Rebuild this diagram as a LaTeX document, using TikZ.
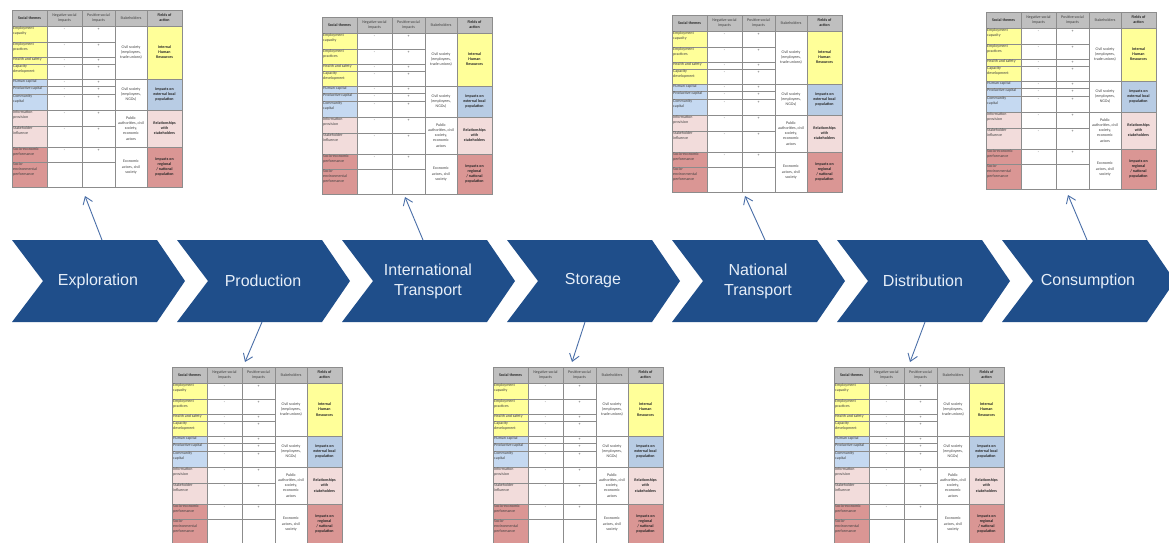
\documentclass[tikz,border=0pt]{standalone}
\usepackage{fontspec}
\setmainfont{Liberation Sans}
\newfontfamily\tabfont{Carlito}
\usetikzlibrary{arrows.meta}
\definecolor{chevblue}{HTML}{1F4E8A}
\definecolor{labeltext}{HTML}{E6EEF8}
\definecolor{tyellow}{HTML}{FFFF99}
\definecolor{tblue}{HTML}{C5D9F1}
\definecolor{tbluef}{HTML}{B8CCE4}
\definecolor{tpink}{HTML}{F2DCDB}
\definecolor{trose}{HTML}{DA9694}
\definecolor{thead}{HTML}{BFBFBF}
\definecolor{tline}{HTML}{8C8C8C}
\definecolor{arrowblue}{HTML}{4A6FA8}
\tikzset{
  chev/.style={fill=chevblue},
  chevlabel/.style={text=labeltext, font=\fontsize{16}{20}\selectfont, align=center, inner sep=0pt},
  link/.style={draw=arrowblue, line width=0.9pt, -{Straight Barb[length=7pt,width=10pt,line width=0.9pt]}},
  cell/.style={inner sep=0.5pt, font=\tabfont\fontsize{4}{5.1}\selectfont, text=black!75, align=center},
  cellb/.style={cell, font=\tabfont\bfseries\fontsize{4}{5.1}\selectfont, text=black!85},
  theme/.style={cell, anchor=north west, align=left},
  grid/.style={draw=tline, line width=0.5pt},
  socialtable/.pic={
    \fill[thead] (0,0) rectangle (170,16);
    \fill[tyellow] (0,16) rectangle (35,69);
    \fill[tblue] (0,69) rectangle (35,100);
    \fill[tpink] (0,100) rectangle (35,137);
    \fill[trose] (0,137) rectangle (35,177);
    \fill[tyellow] (135,16) rectangle (170,69);
    \fill[tbluef] (135,69) rectangle (170,100);
    \fill[tpink] (135,100) rectangle (170,137);
    \fill[trose] (135,137) rectangle (170,177);
    \foreach \x in {35,70,103,135} \draw[grid] (\x,0) -- (\x,177);
    \draw[grid] (0,16) -- (170,16);
    \foreach \y in {32,47,54,69,76,84,100,116,137,152} \draw[grid] (0,\y) -- (103,\y);
    \foreach \y in {69,100,137} \draw[grid] (103,\y) -- (170,\y);
    \draw[grid, line width=0.7pt] (0,0) rectangle (170,177);
    \node[cellb] (-h1) at (17.5,8) {Social themes};
    \node[cell] (-h2) at (52.5,8) {Negative social\\impacts};
    \node[cell] (-h3) at (86.5,8) {Positive social\\impacts};
    \node[cell] (-h4) at (119,8) {Stakeholders};
    \node[cellb] (-h5) at (152.5,8) {Fields of\\action};
    \node[theme] (-s1) at (0.5,16.3) {Employment\\capacity};
    \node[theme] (-s2) at (0.5,32.3) {Employment\\practices};
    \node[theme] (-s3) at (0.5,47.3) {Health and safety};
    \node[theme] (-s4) at (0.5,54.3) {Capacity\\development};
    \node[theme] (-s5) at (0.5,69.3) {Human capital};
    \node[theme] (-s6) at (0.5,76.3) {Productive capital};
    \node[theme] (-s7) at (0.5,84.3) {Community\\capital};
    \node[theme] (-s8) at (0.5,100.3) {Information\\provision};
    \node[theme] (-s9) at (0.5,116.3) {Stakeholder\\influence};
    \node[theme] (-s10) at (0.5,137.3) {Socio-economic\\performance};
    \node[theme] (-s11) at (0.5,152.3) {Socio-\\environmental\\performance};
    \foreach \y [count=\i] in {16,32,47,54,69,76,84,100,116,137} {
      \node[cell] (-n\i) at (52.5,\y+3.5) {-};
      \node[cell] (-p\i) at (86.5,\y+3.5) {+};
    }
    \node[cell] (-k1) at (119,42.5) {Civil society\\(employees,\\trade unions)};
    \node[cell] (-k2) at (119,84.5) {Civil society\\(employees,\\NGOs)};
    \node[cell] (-k3) at (119,118.5) {Public\\authorities, civil\\society,\\economic\\actors};
    \node[cell] (-k4) at (119,157) {Economic\\actors, civil\\society};
    \node[cellb] (-f1) at (152.5,42.5) {Internal\\Human\\Resources};
    \node[cellb] (-f2) at (152.5,84.5) {Impacts on\\external local\\population};
    \node[cellb] (-f3) at (152.5,118.5) {Relationships\\with\\stakeholders};
    \node[cellb] (-f4) at (152.5,157) {Impacts on\\regional\\/ national\\population};
  }
}
\begin{document}
\begin{tikzpicture}[x=1pt, y=-1pt]
\useasboundingbox (0,0) rectangle (1169,542);
\fill[white] (0,0) rectangle (1169,542);
% chevrons
\foreach \s/\lab [count=\i] in {12/Exploration, 177/Production, 342/{International\\Transport}, 507/Storage, 672/{National\\Transport}, 837/Distribution, 1002/Consumption} {
  \fill[chev] (\s,240) -- ++(145,0) -- ++(28,41) -- ++(-28,41) -- ++(-145,0) -- ++(31,-41) -- cycle;
  \node[chevlabel] (c\i) at (\s+86,281) {\lab};
}
% tables
\pic (t1) at (12,10) {socialtable};
\pic (t3) at (322,17) {socialtable};
\pic (t5) at (672,15) {socialtable};
\pic (t7) at (986,12) {socialtable};
\pic (t2) at (172,367) {socialtable};
\pic (t4) at (493,367) {socialtable};
\pic (t6) at (834,367) {socialtable};
% connector ends
\coordinate (c1-out) at (102,240);  \coordinate (t1-in) at (85,196);
\coordinate (c3-out) at (423,240);  \coordinate (t3-in) at (405,197);
\coordinate (c5-out) at (765,240);  \coordinate (t5-in) at (745,196);
\coordinate (c7-out) at (1087,240); \coordinate (t7-in) at (1068,195);
\coordinate (c2-out) at (262,322);  \coordinate (t2-in) at (245,362);
\coordinate (c4-out) at (585,322);  \coordinate (t4-in) at (572,362);
\coordinate (c6-out) at (925,322);  \coordinate (t6-in) at (910,362);
\foreach \i in {1,...,7} \draw[link] (c\i-out) -- (t\i-in);
\end{tikzpicture}
\end{document}
